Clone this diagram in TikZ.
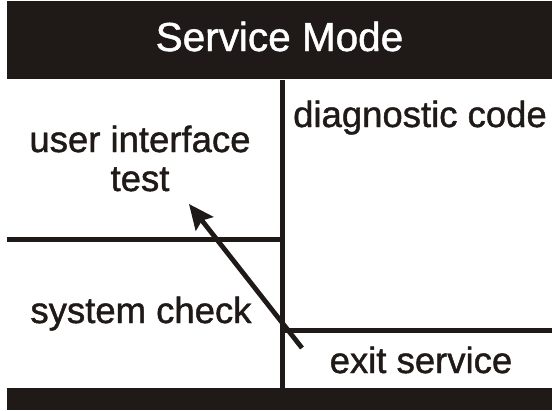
\documentclass[tikz,border=0pt]{standalone}
\usepackage{fontspec}
\setmainfont{Liberation Sans}
\newfontfamily\labelfont{Liberation Sans}[FakeBold=1.2]
\usetikzlibrary{arrows.meta}
\definecolor{ink}{HTML}{1F1A17}

\begin{document}
\begin{tikzpicture}[x=1pt, y=-1pt, >=Stealth,
    % Estilos
    bar/.style={
        fill=ink, draw=none, inner sep=0pt, minimum width=545pt
    },
    divider/.style={
        draw=ink, line width=5pt
    },
    label/.style={
        font=\labelfont\fontsize{36.5}{39}\selectfont, text=ink, inner sep=0pt,
        anchor=base, align=center
    }
]
\useasboundingbox (0,0) rectangle (552,410);

% =============================================
% BARRAS
% =============================================

% barra superior
\node[bar, minimum height=78pt] (header) at (279.5, 40) {};
\node[label, text=white, font=\labelfont\fontsize{40.5}{44}\selectfont] (title) at (279.5, 51) {Service Mode};

% barra inferior
\node[bar, minimum height=22pt] (footer) at (279.5, 399) {};

% =============================================
% DIVISIONES
% =============================================
\coordinate (vtop) at (282.5, 80);
\coordinate (vbot) at (282.5, 388);
\coordinate (lleft) at (7, 239);
\coordinate (lmid) at (282.5, 239);
\coordinate (rmid) at (282.5, 330.5);
\coordinate (rright) at (552, 330.5);

\draw[divider] (vtop) -- (vbot);
\draw[divider] (lleft) -- (lmid);
\draw[divider] (rmid) -- (rright);

% =============================================
% TEXTOS
% =============================================
\node[label] (ui) at (140, 191) {user interface\\test};
\node[label] (diag) at (420, 127) {diagnostic code};
\node[label] (syscheck) at (141, 323) {system check};
\node[label] (exit) at (421, 373) {exit service};

% =============================================
% FLECHA
% =============================================
\coordinate (arrowtail) at (302, 348);
\coordinate (arrowtip) at (189, 204);
\draw[->, ink, line width=4.8pt, >={Stealth[length=25pt, width=22pt, inset=4pt]}]
    (arrowtail) -- (arrowtip);

\end{tikzpicture}
\end{document}
